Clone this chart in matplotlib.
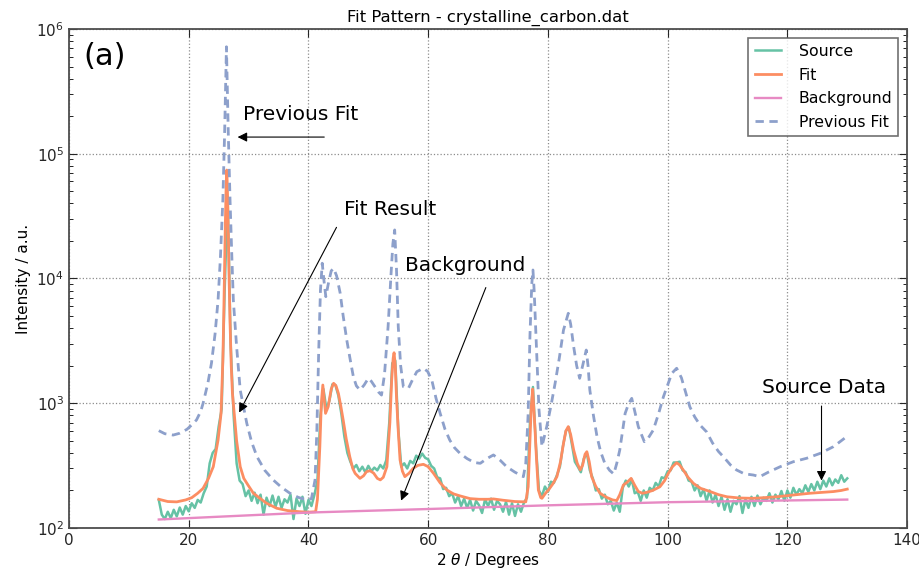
import matplotlib
matplotlib.use("Agg")
import matplotlib.pyplot as plt
import numpy as np

# measured source intensities, 15..130 deg in 0.5 deg steps
src_x = np.arange(15.0, 130.01, 0.5)
src_y = [
    168, 128, 118, 135, 120, 140, 124, 146, 128, 150,
    136, 158, 145, 168, 160, 190, 215, 330, 400, 430,
    650, 900, 8000, 45000, 3000, 800, 330, 240, 225, 180,
    200, 165, 192, 158, 185, 128, 175, 150, 182, 148,
    178, 145, 170, 160, 185, 118, 172, 150, 178, 130,
    168, 150, 185, 240, 800, 1300, 900, 1050, 1420, 1400,
    1150, 820, 540, 400, 340, 300, 320, 285, 310, 280,
    315, 285, 305, 290, 320, 300, 350, 700, 2100, 2200,
    620, 310, 330, 300, 345, 330, 380, 360, 395, 365,
    355, 315, 300, 255, 250, 205, 210, 180, 190, 160,
    180, 150, 172, 145, 168, 138, 165, 152, 132, 170,
    150, 172, 140, 165, 155, 135, 162, 128, 158, 125,
    155, 135, 160, 175, 700, 1350, 450, 200, 180, 215,
    195, 235, 230, 265, 310, 450, 600, 640, 470, 340,
    310, 280, 360, 400, 290, 250, 200, 205, 172, 185,
    155, 165, 138, 160, 135, 210, 240, 215, 245, 190,
    195, 165, 200, 175, 210, 200, 230, 215, 255, 250,
    285, 290, 335, 335, 340, 290, 280, 240, 235, 200,
    220, 180, 205, 165, 200, 160, 185, 150, 178, 140,
    170, 135, 165, 155, 180, 132, 170, 145, 178, 150,
    182, 155, 175, 165, 190, 160, 185, 170, 198, 165,
    200, 175, 210, 185, 205, 190, 220, 195, 225, 200,
    235, 205, 240, 215, 250, 220, 245, 230, 265, 235,
    250,
]

fit_x = [15.0, 16.5, 18.0, 19.5, 20.5, 21.5, 22.4, 23.3, 24.1, 24.9,
         25.4, 25.7, 25.85, 25.95, 26.1, 26.25, 26.35, 26.45, 26.6, 26.75,
         26.9, 27.1, 27.3, 27.6, 28.0, 28.6, 29.2, 29.9, 30.8, 31.9,
         33.0, 34.7, 36.5, 38.6, 40.0, 41.2, 41.5, 41.9, 42.15, 42.4,
         42.6, 42.85, 43.3, 43.8, 44.2, 44.6, 45.0, 45.4, 45.8, 46.3,
         46.9, 47.4, 47.8, 48.6, 49.2, 49.7, 50.3, 50.9, 51.5, 52.0,
         52.5, 53.1, 53.6, 53.9, 54.15, 54.3, 54.5, 54.7, 55.0, 55.3,
         55.7, 56.1, 56.8, 57.5, 58.3, 59.2, 60.0, 60.9, 62.0, 63.1,
         64.2, 65.3, 67.0, 68.5, 70.0, 70.9, 72.5, 74.5, 76.3, 76.7,
         77.0, 77.2, 77.45, 77.65, 77.85, 78.1, 78.4, 78.8, 79.0, 79.6,
         80.1, 80.8, 81.5, 82.1, 82.6, 83.0, 83.4, 83.8, 84.3, 84.9,
         85.4, 85.8, 86.2, 86.5, 86.9, 87.3, 88.0, 88.7, 89.8, 90.8,
         91.5, 92.0, 92.6, 93.2, 93.9, 94.5, 95.1, 95.8, 96.5, 97.5,
         98.7, 99.5, 100.1, 100.8, 101.5, 102.0, 102.6, 103.4, 104.3, 105.5,
         107.1, 108.5, 109.9, 112.0, 114.3, 116.0, 118.2, 121.0, 123.8, 125.8,
         127.7, 129.0, 130.0]
fit_y = [170, 163, 162, 168, 175, 190, 208, 250, 310, 507,
         830, 2200, 5000, 9700, 25000, 55000, 74000, 55000, 25000, 9700,
         4500, 2000, 1200, 830, 500, 310, 250, 221, 190, 173,
         158, 144, 138, 135, 134, 135, 170, 449, 1000, 1400,
         1100, 830, 940, 1300, 1445, 1380, 1200, 950, 734, 520,
         373, 300, 274, 250, 262, 283, 288, 275, 250, 243,
         255, 310, 700, 1535, 2300, 2540, 2000, 1130, 600, 351,
         285, 258, 275, 301, 318, 324, 310, 274, 230, 202,
         188, 181, 172, 170, 170, 171, 167, 163, 162, 214,
         500, 900, 1300, 900, 610, 350, 202, 175, 173, 190,
         202, 225, 258, 340, 477, 600, 650, 560, 422, 330,
         292, 320, 390, 409, 340, 258, 215, 190, 176, 168,
         166, 185, 221, 232, 250, 220, 196, 190, 193, 200,
         214, 240, 274, 310, 334, 320, 292, 255, 228, 208,
         196, 185, 178, 174, 173, 175, 178, 184, 190, 193,
         196, 200, 205]

bg_x = [15, 40, 60, 80, 100, 130]
bg_y = [117, 133, 142, 152, 161, 169]

prev_x = [15.0, 16.0, 17.4, 18.5, 19.7, 20.5, 21.3, 22.0, 22.4, 23.2,
          23.8, 24.4, 24.9, 25.3, 25.7, 26.0, 26.3, 26.6, 26.9, 27.2,
          27.45, 28.0, 28.6, 29.7, 30.5, 31.4, 32.7, 34.1, 35.5, 36.9,
          38.3, 39.7, 40.5, 41.1, 41.4, 41.7, 42.0, 42.3, 42.6, 42.9,
          43.3, 43.8, 44.2, 44.7, 45.3, 45.8, 46.4, 47.0, 47.5, 48.0,
          48.6, 49.3, 50.0, 50.5, 51.1, 51.7, 52.2, 52.7, 53.3, 53.8,
          54.1, 54.4, 54.7, 55.0, 55.4, 55.85, 56.7, 57.4, 58.1, 59.2,
          59.9, 60.6, 61.3, 62.0, 62.8, 63.6, 64.4, 65.3, 66.5, 67.7,
          68.7, 69.8, 70.9, 72.0, 73.1, 74.5, 75.9, 76.3, 76.7, 77.0,
          77.3, 77.5, 77.7, 78.1, 78.5, 79.0, 79.8, 80.5, 81.2, 81.9,
          82.6, 83.4, 83.8, 84.3, 84.8, 85.3, 85.8, 86.4, 86.7, 87.0,
          87.6, 88.2, 88.8, 89.5, 90.3, 91.0, 91.5, 92.0, 92.9, 93.5,
          94.0, 94.5, 95.1, 96.1, 96.8, 97.6, 98.5, 99.3, 100.0, 100.7,
          101.5, 102.3, 103.2, 103.7, 104.5, 105.4, 106.5, 107.5, 108.5, 109.3,
          110.5, 111.5, 112.8, 114.3, 115.4, 116.8, 118.8, 121.0, 123.2, 125.5,
          127.7, 129.9]
prev_y = [603, 570, 556, 575, 618, 670, 735, 860, 1000, 1450,
          2100, 3600, 6720, 15000, 42500, 150000, 720000, 150000, 42500, 15000,
          6720, 2840, 1277, 690, 490, 373, 290, 243, 212, 190,
          176, 168, 172, 243, 600, 2500, 8000, 13250, 9500, 7150,
          9000, 11500, 12080, 10500, 7620, 5000, 3210, 2200, 1632, 1380,
          1277, 1400, 1585, 1500, 1358, 1230, 1163, 1700, 4110, 11000,
          19000, 24500, 12000, 4110, 2000, 1358, 1318, 1550, 1791, 1907,
          1800, 1535, 1100, 830, 620, 507, 440, 397, 360, 335,
          330, 360, 385, 350, 310, 280, 258, 330, 830, 3500,
          9000, 11700, 8000, 2670, 900, 449, 649, 950, 1445, 2300,
          3860, 5260, 4300, 2840, 2000, 1585, 2000, 2670, 2000, 1277,
          800, 540, 410, 330, 290, 271, 330, 422, 830, 1000,
          1095, 860, 649, 492, 530, 610, 830, 1130, 1400, 1738,
          1907, 1600, 1130, 938, 780, 669, 590, 480, 410, 373,
          320, 292, 272, 266, 258, 280, 310, 340, 362, 397,
          449, 540]

plt.rcParams.update({
    "xtick.direction": "in", "ytick.direction": "in",
    "xtick.top": True, "ytick.right": True,
    "xtick.minor.visible": False,
    "font.size": 11,
})

fig = plt.figure(figsize=(9.2, 5.68), dpi=100)
ax = fig.add_axes([0.075, 0.0704, 0.911, 0.8786])

ax.plot(src_x, src_y, color="#66c2a5", lw=1.8, label="Source")
ax.plot(fit_x, fit_y, color="#fc8d62", lw=2.0, label="Fit")
ax.plot(bg_x, bg_y, color="#e78ac3", lw=1.7, label="Background")
ax.plot(prev_x, prev_y, color="#8da0cb", lw=2.0, ls="--", dashes=(3, 2),
        label="Previous Fit")

ax.set_yscale("log")
ax.set_xlim(0, 140)
ax.set_ylim(1e2, 1e6)
ax.grid(True, which="major", color="0.55", ls=":", lw=0.9)
for s in ax.spines.values():
    s.set_color("0.3")
    s.set_linewidth(1.3)
ax.tick_params(which="major", length=6, width=0.8, labelsize=11, colors="0.15")
ax.tick_params(which="minor", length=3, width=0.6)

ax.set_title("Fit Pattern - crystalline_carbon.dat", fontsize=11.8, pad=5)
ax.set_xlabel(r"2 $\theta$ / Degrees", fontsize=11, labelpad=2)
ax.set_ylabel("Intensity / a.u.", fontsize=11)

ax.text(0.017, 0.944, "(a)", transform=ax.transAxes, fontsize=22, va="center")

arrow = dict(arrowstyle="-|>", color="k", lw=0.8, mutation_scale=14)
ax.annotate("", xy=(27.7, 1.36e5), xytext=(43.1, 1.36e5), arrowprops=arrow)
ax.text(29.1, 2.05e5, "Previous Fit", fontsize=14.5, va="center")
ax.annotate("", xy=(28.2, 805), xytext=(44.9, 2.69e4), arrowprops=arrow)
ax.text(45.9, 3.54e4, "Fit Result", fontsize=14.5, va="center")
ax.annotate("", xy=(55.3, 158), xytext=(69.8, 8870), arrowprops=arrow)
ax.text(56.1, 1.28e4, "Background", fontsize=14.5, va="center")
ax.annotate("", xy=(125.7, 228), xytext=(125.7, 1000), arrowprops=arrow)
ax.text(115.8, 1349, "Source Data", fontsize=14.5, va="center")

leg = ax.legend(loc="upper right", fontsize=11.3, fancybox=False,
                handlelength=1.7, handletextpad=1.1, labelspacing=0.55,
                borderaxespad=0.55)
leg.get_frame().set_edgecolor("0.3")
leg.get_frame().set_linewidth(1.2)

fig.savefig("out.png", dpi=100)
